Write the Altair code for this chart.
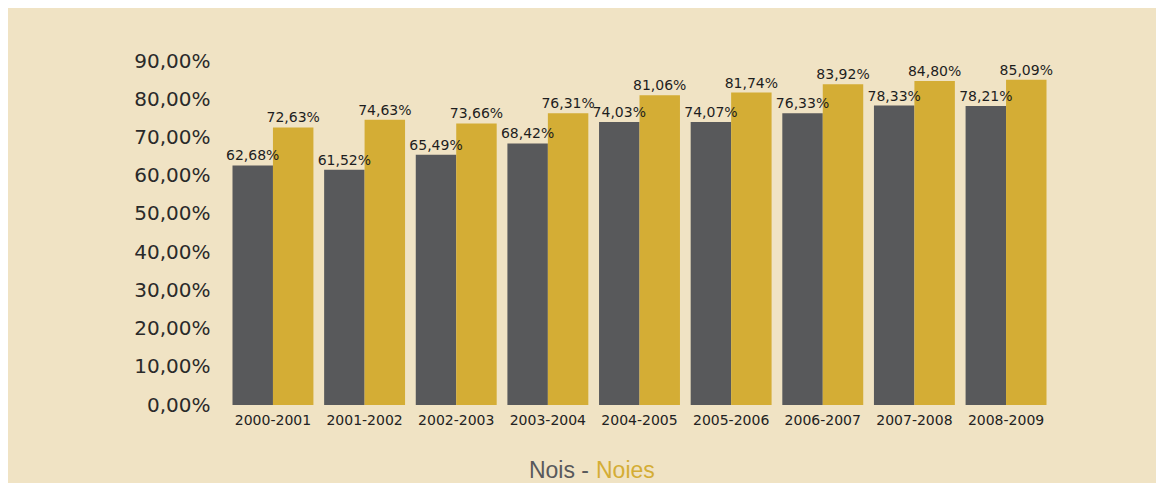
import altair as alt
import pandas as pd

cursos = ["2000-2001", "2001-2002", "2002-2003", "2003-2004", "2004-2005",
          "2005-2006", "2006-2007", "2007-2008", "2008-2009"]
nois = [62.68, 61.52, 65.49, 68.42, 74.03, 74.07, 76.33, 78.33, 78.21]
noies = [72.63, 74.63, 73.66, 76.31, 81.06, 81.74, 83.92, 84.80, 85.09]
series = ["Nois", "Noies"]
colors = ["#58595B", "#D4AD35"]

rows = []
for i, c in enumerate(cursos):
    for s, vals in zip(series, [nois, noies]):
        v = vals[i]
        rows.append({"curs": c, "sexe": s, "valor": v,
                     "etiqueta": f"{v:.2f}".replace(".", ",") + "%"})
df = pd.DataFrame(rows)

x = alt.X("curs:N", sort=cursos, title=None,
          scale=alt.Scale(paddingInner=0.117, paddingOuter=0.06),
          axis=alt.Axis(labelAngle=0, domain=False, ticks=False, labelPadding=8,
                        labelFont="DejaVu Sans", labelFontSize=14,
                        labelColor="#222222"))
xo = alt.XOffset("sexe:N", sort=series, scale=alt.Scale(paddingInner=0, paddingOuter=0))
y = alt.Y("valor:Q", title=None,
          scale=alt.Scale(domain=[0, 90], nice=False),
          axis=alt.Axis(values=list(range(0, 100, 10)), grid=False, domain=False,
                        ticks=False, labelPadding=17,
                        labelExpr="replace(format(datum.value, '.2f'), '.', ',') + '%'",
                        labelFont="DejaVu Sans", labelFontSize=20,
                        labelColor="#2a2a2a"))

base = alt.Chart(df)
bars = base.mark_bar().encode(
    x=x, xOffset=xo, y=y,
    color=alt.Color("sexe:N", sort=series,
                    scale=alt.Scale(domain=series, range=colors), legend=None),
)
labels = base.mark_text(baseline="bottom", dy=-2, font="DejaVu Sans",
                        fontSize=14, color="#1e1e1e").encode(
    x=x, xOffset=xo, y=y, text="etiqueta:N")

leg_df = pd.DataFrame({"t": ["Nois -"]})
leg1 = alt.Chart(leg_df).mark_text(align="right", baseline="alphabetic",
                                   font="Liberation Sans", fontSize=23,
                                   color=colors[0]).encode(
    x=alt.value(362), y=alt.value(417), text="t:N")
leg_df2 = pd.DataFrame({"t": ["Noies"]})
leg2 = alt.Chart(leg_df2).mark_text(align="left", baseline="alphabetic",
                                    font="Liberation Sans", fontSize=23,
                                    color=colors[1]).encode(
    x=alt.value(369), y=alt.value(417), text="t:N")

chart = alt.layer(bars, labels, leg1, leg2).properties(
    width=825, height=344,
    autosize="none",
    padding={"left": 219, "top": 53, "right": 104, "bottom": 78},
).configure(background="#F0E3C4").configure_view(stroke=None)

chart.save("out.html", embed_options={"renderer": "svg", "actions": False})
